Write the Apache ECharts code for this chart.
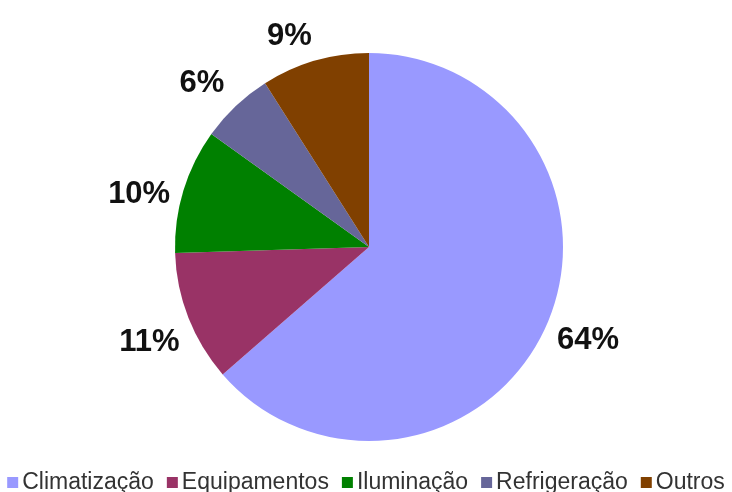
<!DOCTYPE html>
<html>
<head>
<meta charset="utf-8">
<script src="https://cdn.jsdelivr.net/npm/echarts@6/dist/echarts.min.js"></script>
<style>html,body{margin:0;padding:0;background:#fff}#c{width:732px;height:492px}</style>
</head>
<body>
<div id="c"></div>
<script>
const categories = ['Climatização', 'Equipamentos', 'Iluminação', 'Refrigeração', 'Outros'];
const values = [63.6, 10.9, 10.4, 6.1, 9.0];
const colors = ['#9999FF', '#993366', '#008000', '#666699', '#804000'];
const labelOffsets = [[-10, 6], [13, 18], [9, 9], [6, -9], [7, -7]];

const chart = echarts.init(document.getElementById('c'), null, {renderer: 'canvas'});
chart.setOption({
  animation: false,
  color: colors,
  legend: {
    bottom: -7,
    left: 'center',
    itemWidth: 11,
    itemHeight: 11,
    itemGap: 13,
    icon: 'rect',
    textStyle: {fontFamily: 'Liberation Sans, Arial, sans-serif', fontSize: 23, color: '#333', padding: [0, 0, 0, -1]},
    data: categories
  },
  series: [{
    type: 'pie',
    center: [369, 247],
    radius: 194,
    startAngle: 90,
    clockwise: true,
    avoidLabelOverlap: false,
    data: categories.map((c, i) => ({name: c, value: values[i], label: {offset: labelOffsets[i]}})),
    label: {
      show: true,
      position: 'outside',
      formatter: p => Math.round(p.value) + '%',
      fontFamily: 'Liberation Sans, Arial, sans-serif',
      fontWeight: 'bold',
      fontSize: 31,
      color: '#111'
    },
    labelLine: {show: false, length: 18, length2: 0},
    emphasis: {disabled: true}
  }]
});
</script>
</body>
</html>
